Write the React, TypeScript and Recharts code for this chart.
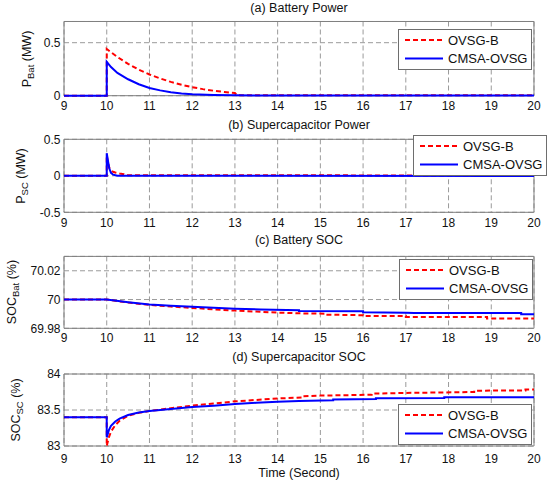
import React from 'react';
import { LineChart, Line, XAxis, YAxis, CartesianGrid, Legend, ReferenceArea } from 'recharts';

const FONT = '"Liberation Sans", Arial, Helvetica, sans-serif';

const timeTicks = [9, 10, 11, 12, 13, 14, 15, 16, 17, 18, 19, 20];
const seriesNames = ['OVSG-B', 'CMSA-OVSG'];

// (a) Battery power (MW)
const batPowerOvsgB: [number, number][] = [
  [9, 0], [10, 0], [10, 0.44], [10.1, 0.41], [10.25, 0.365], [10.5, 0.3], [10.75, 0.245],
  [11, 0.2], [11.25, 0.163], [11.5, 0.13], [11.75, 0.103], [12, 0.08], [12.25, 0.062],
  [12.5, 0.047], [12.75, 0.035], [13, 0.025], [13.05, 0.004], [20, 0.003],
];
const batPowerCmsa: [number, number][] = [
  [9, 0], [10, 0], [10, 0.32], [10.1, 0.27], [10.25, 0.215], [10.5, 0.155], [10.75, 0.108],
  [11, 0.072], [11.25, 0.05], [11.5, 0.033], [11.75, 0.021], [12, 0.013], [12.5, 0.006],
  [13, 0.003], [20, 0.002],
];

// (b) Supercapacitor power (MW)
const scPowerOvsgB: [number, number][] = [
  [9, 0], [10, 0], [10, 0.28], [10.03, 0.18], [10.06, 0.11], [10.1, 0.07], [10.15, 0.055],
  [10.2, 0.045], [10.3, 0.032], [10.4, 0.022], [10.45, 0.008], [20, 0.004],
];
const scPowerCmsa: [number, number][] = [
  [9, 0], [10, 0], [10, 0.31], [10.03, 0.2], [10.06, 0.1], [10.1, 0.04], [10.15, 0.015],
  [10.25, 0], [20, -0.002],
];

// (c) Battery SOC (%)
const batSocOvsgB: [number, number][] = [
  [9, 70], [10, 70], [10.5, 69.9979], [11, 69.9963], [11.5, 69.9951], [12, 69.9942],
  [12.5, 69.9932], [13, 69.9923], [13.5, 69.9916], [14, 69.9909], [14.5, 69.9904],
  [15.1, 69.9902], [15.1, 69.9895], [16, 69.9891], [16, 69.9886], [17, 69.9885],
  [17, 69.9879], [18.9, 69.9879], [18.9, 69.9868], [20, 69.9868],
];
const batSocCmsa: [number, number][] = [
  [9, 70], [10, 70], [10.5, 69.9981], [11, 69.9965], [11.5, 69.9956], [12, 69.9949],
  [12.5, 69.9943], [13, 69.9936], [13.6, 69.9931], [14.5, 69.9926], [14.5, 69.9921],
  [16, 69.9918], [16, 69.9912], [17, 69.9908], [17.2, 69.9906], [19.7, 69.9906],
  [19.7, 69.9898], [20, 69.9898],
];

// (d) Supercapacitor SOC (%)
const scSocOvsgB: [number, number][] = [
  [9, 83.4], [10, 83.4], [10, 83.0], [10.05, 83.12], [10.1, 83.2], [10.2, 83.29], [10.3, 83.35],
  [10.5, 83.42], [10.75, 83.46], [11, 83.485], [11.5, 83.525], [12, 83.56], [12.5, 83.59],
  [13, 83.62], [13.5, 83.64], [14, 83.66], [14.6, 83.675], [14.6, 83.69], [15, 83.7],
  [16.2, 83.712], [16.2, 83.727], [17, 83.737], [18.6, 83.75], [18.6, 83.768],
  [19.8, 83.772], [19.8, 83.785], [20, 83.785],
];
const scSocCmsa: [number, number][] = [
  [9, 83.4], [10, 83.4], [10, 83.12], [10.05, 83.22], [10.1, 83.28], [10.2, 83.34], [10.3, 83.38],
  [10.5, 83.43], [10.75, 83.465], [11, 83.485], [11.5, 83.515], [12, 83.54], [12.5, 83.56],
  [13, 83.583], [13.5, 83.6], [14, 83.615], [14.5, 83.625], [15.3, 83.635], [15.3, 83.645],
  [16.3, 83.652], [16.3, 83.664], [17.9, 83.666], [17.9, 83.676], [20, 83.676],
];

const toPts = (s: [number, number][]) => s.map(([t, v]) => ({ t, v }));

const RED = '#ff0000';
const BLUE = '#0000ff';

function LegendBox() {
  return (
    <svg width={134} height={41} style={{ display: 'block' }}>
      <rect x={0.5} y={0.5} width={133} height={40} fill="#ffffff" stroke="#6e6e6e" strokeWidth={1} />
      <line x1={7} x2={45} y1={11} y2={11} stroke={RED} strokeWidth={2} strokeDasharray="5 3" />
      <line x1={7} x2={45} y1={29.5} y2={29.5} stroke={BLUE} strokeWidth={2} />
      <text x={50} y={15.5} fontSize={13} fontFamily={FONT} fill="#111">{seriesNames[0]}</text>
      <text x={50} y={34} fontSize={13} fontFamily={FONT} fill="#111">{seriesNames[1]}</text>
    </svg>
  );
}

type PanelProps = {
  top: number;
  plotTop: number;
  plotBottom: number;
  domain: [number, number];
  yTicks: number[];
  red: [number, number][];
  blue: [number, number][];
  legendLeft: number;
  legendTop: number;
  xGap: number;
};

function Panel({ top, plotTop, plotBottom, domain, yTicks, red, blue, legendLeft, legendTop, xGap }: PanelProps) {
  const H = plotBottom - top + 25;
  const tickStyle = { fontSize: 12, fill: '#111', fontFamily: FONT };
  return (
    <div style={{ position: 'absolute', left: 0, top }}>
      <LineChart width={550} height={H} margin={{ top: plotTop - top, right: 16, bottom: 0, left: 14 }}>
        <CartesianGrid stroke="#9a9a9a" strokeDasharray="5 3" strokeWidth={1} />
        <XAxis
          dataKey="t"
          type="number"
          domain={[9, 20]}
          ticks={timeTicks}
          interval={0}
          tickLine={false}
          axisLine={false}
          tickSize={xGap}
          tickMargin={0}
          height={25}
          tick={tickStyle}
        />
        <YAxis
          type="number"
          domain={domain}
          ticks={yTicks}
          interval={0}
          tickLine={false}
          axisLine={false}
          tickSize={3.5}
          tickMargin={0}
          width={50}
          tick={tickStyle}
        />
        <ReferenceArea x1={9} x2={20} y1={domain[0]} y2={domain[1]} fill="none" fillOpacity={0} stroke="#808080" strokeWidth={1} ifOverflow="visible" />
        <Line data={toPts(red)} dataKey="v" name={seriesNames[0]} type="linear" dot={false} stroke={RED} strokeWidth={2} strokeDasharray="5 3" isAnimationActive={false} />
        <Line data={toPts(blue)} dataKey="v" name={seriesNames[1]} type="linear" dot={false} stroke={BLUE} strokeWidth={2} isAnimationActive={false} />
        <Legend
          layout="vertical"
          align="center"
          verticalAlign="middle"
          wrapperStyle={{ position: 'absolute', left: legendLeft, top: legendTop - top, width: 134, height: 41 }}
          content={() => <LegendBox />}
        />
      </LineChart>
    </div>
  );
}

function YLabel({ x, y, main, sub, unit }: { x: number; y: number; main: string; sub: string; unit: string }) {
  return (
    <text transform={`translate(${x},${y}) rotate(-90)`} textAnchor="middle" fontSize={12.5} fontFamily={FONT} fill="#111">
      {main}
      <tspan fontSize={9.5} dy={2.5}>{sub}</tspan>
      <tspan dy={-2.5}>{' ' + unit}</tspan>
    </text>
  );
}

export default function App() {
  return (
    <div style={{ position: 'absolute', left: 0, top: 0, width: 550, height: 484, background: '#ffffff', overflow: 'hidden' }}>
      <Panel top={0} plotTop={21.5} plotBottom={95.7} domain={[0, 0.7]} yTicks={[0, 0.5]}
        red={batPowerOvsgB} blue={batPowerCmsa} legendLeft={398} legendTop={28.5} xGap={6} />
      <Panel top={120} plotTop={139.3} plotBottom={212.3} domain={[-0.5, 0.5]} yTicks={[-0.5, 0, 0.5]}
        red={scPowerOvsgB} blue={scPowerCmsa} legendLeft={412.5} legendTop={134.5} xGap={6} />
      <Panel top={240} plotTop={256.4} plotBottom={328.3} domain={[69.98, 70.03]} yTicks={[69.98, 70, 70.02]}
        red={batSocOvsgB} blue={batSocCmsa} legendLeft={399} legendTop={258.5} xGap={5} />
      <Panel top={360} plotTop={374} plotBottom={446} domain={[83, 84]} yTicks={[83, 83.5, 84]}
        red={scSocOvsgB} blue={scSocCmsa} legendLeft={398} legendTop={404} xGap={8} />
      <svg width={550} height={484} style={{ position: 'absolute', left: 0, top: 0, pointerEvents: 'none' }}>
        <g fontFamily={FONT} fontSize={12.5} fill="#111" textAnchor="middle">
          <text x={299} y={12}>(a) Battery Power</text>
          <text x={299} y={129}>(b) Supercapacitor Power</text>
          <text x={299} y={244}>(c) Battery SOC</text>
          <text x={299} y={361}>(d) Supercapacitor SOC</text>
          <text x={299} y={477}>Time (Second)</text>
        </g>
        <YLabel x={31} y={59} main="P" sub="Bat" unit="(MW)" />
        <YLabel x={25} y={176} main="P" sub="SC" unit="(MW)" />
        <YLabel x={16} y={292} main="SOC" sub="Bat" unit="(%)" />
        <YLabel x={20} y={410} main="SOC" sub="SC" unit="(%)" />
      </svg>
    </div>
  );
}
